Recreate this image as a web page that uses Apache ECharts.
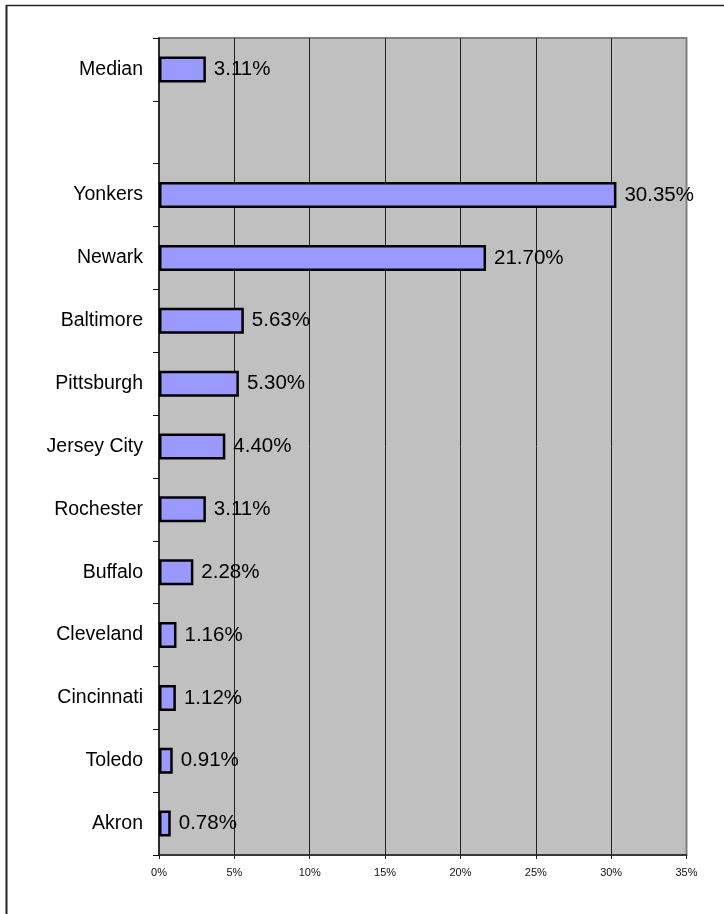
<!DOCTYPE html>
<html>
<head>
<meta charset="utf-8">
<style>
  html, body { margin: 0; padding: 0; background: #fff; }
  #chart { width: 724px; height: 914px; }
</style>
<script src="https://cdn.jsdelivr.net/npm/echarts@6/dist/echarts.min.js"></script>
</head>
<body>
<div id="chart"></div>
<script>
// Cities (top to bottom); the empty slot separates the median from the cities
const cities = ['Median', '', 'Yonkers', 'Newark', 'Baltimore', 'Pittsburgh', 'Jersey City',
  'Rochester', 'Buffalo', 'Cleveland', 'Cincinnati', 'Toledo', 'Akron'];
// Percent values for each slot (null = empty spacer row)
const shares = [3.11, null, 30.35, 21.70, 5.63, 5.30, 4.40, 3.11, 2.28, 1.16, 1.12, 0.91, 0.78];
// Horizontal axis range and step (percent)
const axisMin = 0;
const axisMax = 35;
const axisStep = 5;

const FONT = "'Liberation Sans', Arial, sans-serif";
const chart = echarts.init(document.getElementById('chart'), null, { renderer: 'canvas' });

chart.setOption({
  animation: false,
  backgroundColor: '#ffffff',
  textStyle: { fontFamily: FONT },
  graphic: [
    { type: 'line', shape: { x1: 6.5, y1: 5, x2: 6.5, y2: 914 }, style: { stroke: '#222', lineWidth: 2 } },
    { type: 'line', shape: { x1: 6, y1: 5.5, x2: 724, y2: 5.5 }, style: { stroke: '#222', lineWidth: 1.5 } }
  ],
  grid: {
    left: 159, top: 38, right: 37.5, bottom: 59,
    show: true, backgroundColor: '#C0C0C0', borderColor: '#808080', borderWidth: 2
  },
  xAxis: {
    type: 'value', min: axisMin, max: axisMax, interval: axisStep,
    axisLine: { show: true, lineStyle: { color: '#222', width: 1.5 } },
    axisTick: { show: true, length: 4, lineStyle: { color: '#222' } },
    axisLabel: { formatter: '{value}%', fontSize: 11, color: '#111', margin: 12, fontFamily: FONT },
    splitLine: { show: true, showMinLine: false, showMaxLine: false, lineStyle: { color: '#222', width: 1 } }
  },
  yAxis: {
    type: 'category', data: cities, inverse: true,
    axisLine: { show: true, lineStyle: { color: '#111', width: 1.5 } },
    axisTick: { show: true, length: 6, lineStyle: { color: '#111' } },
    axisLabel: { fontSize: 19.5, color: '#000', margin: 16, fontFamily: FONT },
    splitLine: { show: false }
  },
  series: [{
    type: 'bar',
    data: shares,
    barWidth: 26,
    itemStyle: { color: '#9999FF', borderColor: '#000', borderWidth: 2.5 },
    label: {
      show: true, position: 'right', distance: 8,
      fontSize: 20.5, color: '#000', fontFamily: FONT,
      formatter: p => (p.value == null ? '' : p.value.toFixed(2) + '%')
    }
  }]
});
</script>
</body>
</html>
